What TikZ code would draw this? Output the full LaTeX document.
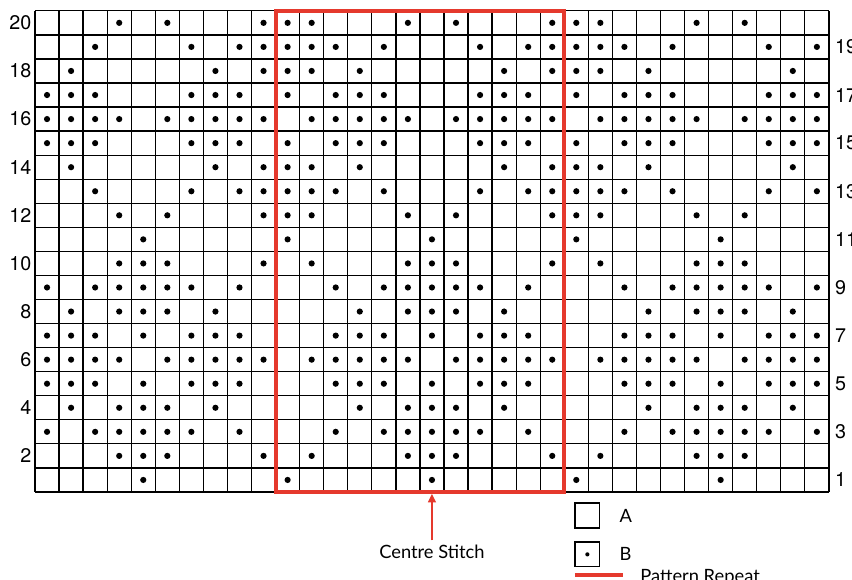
\documentclass[tikz,border=0pt]{standalone}
\usepackage{fontspec}
\setmainfont{TeX Gyre Heros}
\newfontfamily\keyfont{Lato}
\usetikzlibrary{arrows.meta,positioning}
\definecolor{repeatred}{RGB}{229,57,45}

\begin{document}
\begin{tikzpicture}[x=0.6cm,y=0.6cm,
	gridline/.style={line width=0.9pt},
	repeatline/.style={draw=repeatred,line width=2.8pt},
	stitch/.style={circle,fill=black,inner sep=0pt,minimum size=4.4pt},
	rownum/.style={font=\fontsize{14}{16}\selectfont,inner sep=0pt},
	keybox/.style={draw,line width=0.9pt,minimum size=0.62cm,inner sep=0pt},
	keytext/.style={font=\keyfont\fontsize{13}{15}\selectfont,inner sep=0pt}]
				\useasboundingbox (-1.455,-3.658) rectangle (33.96,20.45);
				\draw[gridline,step=0.6cm] (0,0) grid (33,20);
				\foreach \row/\cols in {
					20/{4,6,10,11,12,16,18,22,23,24,28,30},
					19/{3,7,9,10,11,12,13,15,19,21,22,23,24,25,27,31,33},
					18/{2,8,10,11,12,14,20,22,23,24,26,32},
					17/{1,2,3,7,8,9,11,13,14,15,19,20,21,23,25,26,27,31,32,33},
					16/{1,2,3,4,6,7,8,9,10,12,13,14,15,16,18,19,20,21,22,24,25,26,27,28,30,31,32,33},
					15/{1,2,3,7,8,9,11,13,14,15,19,20,21,23,25,26,27,31,32,33},
					14/{2,8,10,11,12,14,20,22,23,24,26,32},
					13/{3,7,9,10,11,12,13,15,19,21,22,23,24,25,27,31,33},
					12/{4,6,10,11,12,16,18,22,23,24,28,30},
					11/{5,11,17,23,29},
					10/{4,5,6,10,12,16,17,18,22,24,28,29,30},
					9/{1,3,4,5,6,7,9,13,15,16,17,18,19,21,25,27,28,29,30,31,33},
					8/{2,4,5,6,8,14,16,17,18,20,26,28,29,30,32},
					7/{1,2,3,5,7,8,9,13,14,15,17,19,20,21,25,26,27,29,31,32,33},
					6/{1,2,3,4,6,7,8,9,10,12,13,14,15,16,18,19,20,21,22,24,25,26,27,28,30,31,32,33},
					5/{1,2,3,5,7,8,9,13,14,15,17,19,20,21,25,26,27,29,31,32,33},
					4/{2,4,5,6,8,14,16,17,18,20,26,28,29,30,32},
					3/{1,3,4,5,6,7,9,13,15,16,17,18,19,21,25,27,28,29,30,31,33},
					2/{4,5,6,10,12,16,17,18,22,24,28,29,30},
					1/{5,11,17,23,29}}
					\foreach \col in \cols
						\node[stitch] (s\row-\col) at (\col-0.5,\row-0.5) {};
				\foreach \row in {2,4,...,20}
					\node[rownum,anchor=east] (left\row) at (-0.14,\row-0.5) {\row};
				\foreach \row in {1,3,...,19}
					\node[rownum,anchor=west] (right\row) at (33.25,\row-0.5) {\row};
				\draw[repeatline] (10,0) rectangle (22,20);
				\coordinate (centre) at (16.5,-0.08);
				\node[keytext,anchor=base] (centrelabel) at (16.5,-2.785) {Centre Stitch};
				\draw[repeatred,line width=1.4pt,-{Triangle[width=5.5pt,length=6pt]},shorten <=3.5pt] (centrelabel) -- (centre);
				\node[keybox] (keyA) at (22.96,-0.98) {};
				\node[keytext,right=13.5pt of keyA] (labelA) {A};
				\node[keybox,below=9pt of keyA] (keyB) {};
				\node[stitch,minimum size=3pt] (dotB) at (keyB) {};
				\node[keytext,right=13.5pt of keyB] (labelB) {B};
				\coordinate (barL) at (22.44,-3.45);
				\coordinate (barR) at (24.44,-3.45);
				\draw[repeatline] (barL) -- (barR);
				\node[keytext,anchor=base west] (labelrep) at (25.15,-3.76) {Pattern Repeat};
			\end{tikzpicture}
\end{document}
